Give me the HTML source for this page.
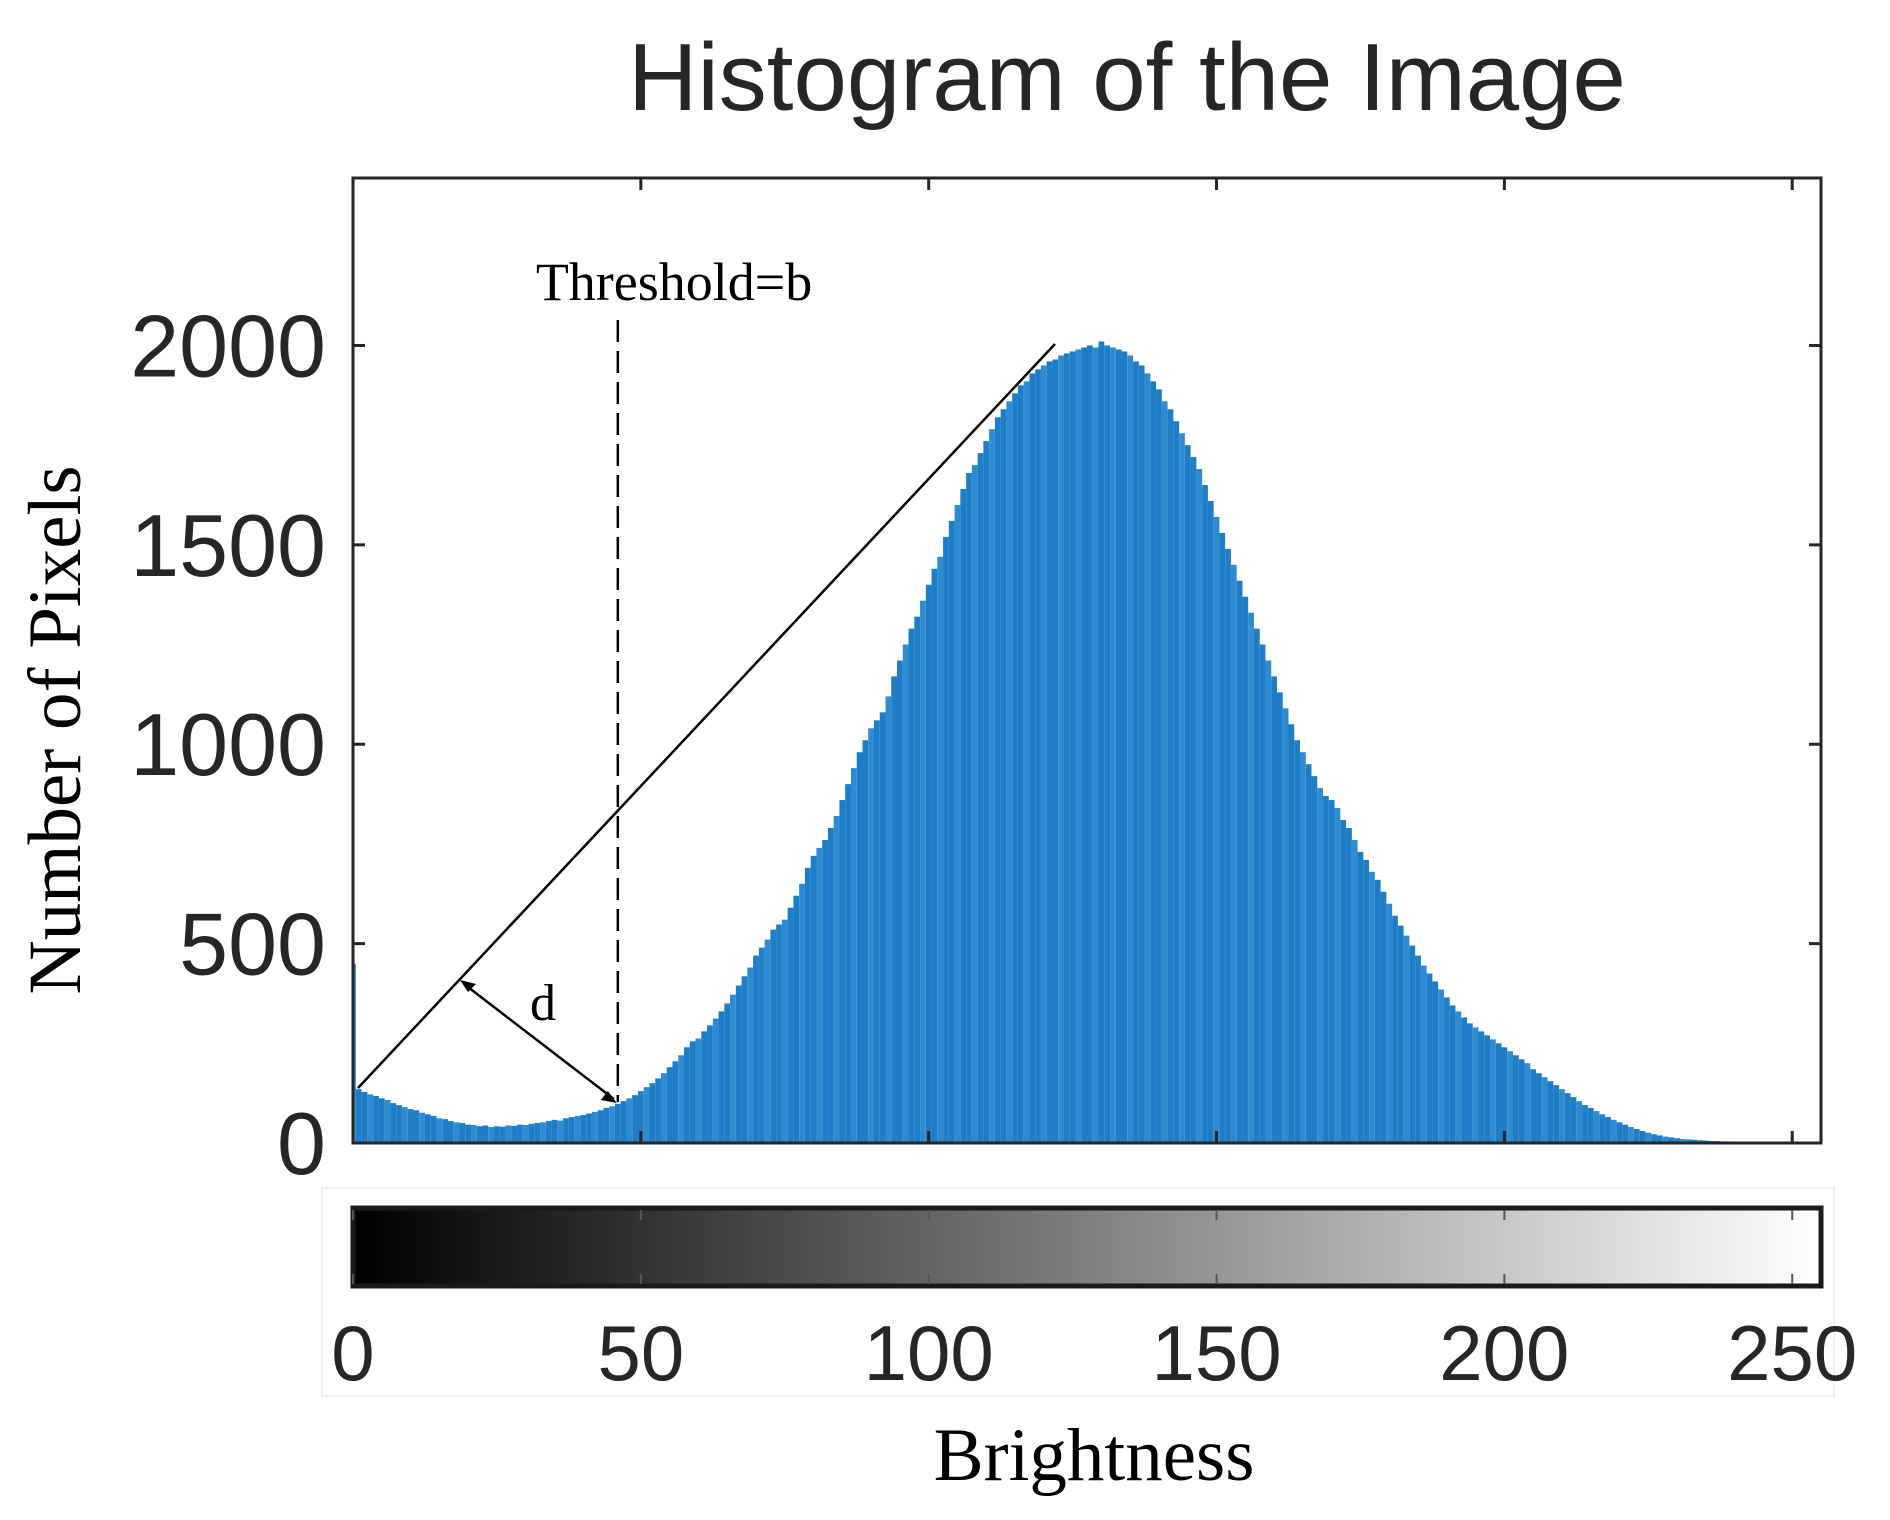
<!DOCTYPE html>
<html><head><meta charset="utf-8">
<style>
html,body{margin:0;padding:0;background:#fff;}
svg{display:block;}
</style></head>
<body>
<svg id="chart" width="1890" height="1520" viewBox="0 0 1890 1520" xmlns="http://www.w3.org/2000/svg">
  <text x="1127" y="110" font-family="Liberation Sans, sans-serif" font-size="96" fill="#262626" text-anchor="middle">Histogram of the Image</text>
  <rect x="322" y="1188" width="1512" height="208" fill="none" stroke="#f0f0f0" stroke-width="2"/>
  <g id="bars"></g>
  <g id="axes"></g>
  <defs>
    <linearGradient id="gray" x1="0" x2="1" y1="0" y2="0">
      <stop offset="0" stop-color="#000"/><stop offset="1" stop-color="#fff"/>
    </linearGradient>
  </defs>
  <rect x="353" y="1208" width="1468" height="78" fill="url(#gray)" stroke="#1a1a1a" stroke-width="5"/>
  <g id="cbticks"></g>
  <text x="1094" y="1480" font-family="Liberation Serif, serif" font-size="75" fill="#000" text-anchor="middle">Brightness</text>
  <text transform="translate(80,730) rotate(-90)" font-family="Liberation Serif, serif" font-size="75" fill="#000" text-anchor="middle">Number of Pixels</text>
  <g id="annot"></g>
</svg>
<script>
const counts = [
450,135,128,122,118,112,108,100,95,90,
85,82,76,72,68,62,60,55,52,50,
46,45,42,44,40,42,41,44,43,46,
45,48,50,52,55,58,56,62,65,68,
70,74,78,82,88,92,98,105,112,120,
130,140,150,162,175,190,205,220,240,255,
262,280,295,312,330,350,372,395,418,440,
470,490,510,535,548,560,590,620,650,690,
720,740,760,790,820,860,900,940,980,1010,
1040,1060,1080,1120,1170,1210,1250,1290,1320,1360,
1400,1440,1470,1520,1560,1600,1640,1680,1700,1730,
1760,1790,1820,1840,1860,1880,1900,1910,1930,1940,
1950,1960,1965,1975,1980,1985,1990,1995,2000,1995,
2010,2000,1995,1990,1985,1975,1960,1950,1930,1910,
1890,1860,1840,1810,1780,1750,1720,1690,1650,1610,
1570,1530,1490,1450,1410,1370,1330,1290,1250,1210,
1170,1130,1090,1050,1010,980,950,920,890,870,
860,840,810,790,760,730,710,680,660,630,
600,570,545,520,495,470,445,425,405,385,
365,345,330,315,300,290,280,270,260,250,
240,230,220,210,200,185,175,165,155,145,
135,125,115,105,95,88,80,72,65,58,
52,46,40,35,30,26,22,19,16,14,
12,10,9,8,7,6,5,5,4,4,
3,3,3,2,2,2,2,1,1,1,
1,1,1,1,1,1];
const yTicks = [0,500,1000,1500,2000];
const yTickLabels = ["0","500","1000","1500","2000"];
const xTicks = [0,50,100,150,200,250];
const xTickLabels = ["0","50","100","150","200","250"];
const thresholdBin = 46;

const L=353, R=1821, T=178, B=1143;
const XMAX=255, YMAX=2420;
const NS="http://www.w3.org/2000/svg";
function xs(v){return L+(v)*(R-L)/XMAX;}
function ys(v){return B-v*(B-T)/YMAX;}
function mk(tag,attrs,parent){const e=document.createElementNS(NS,tag);for(const k in attrs)e.setAttribute(k,attrs[k]);parent.appendChild(e);return e;}

const bars=document.getElementById('bars');
counts.forEach((c,i)=>{
  const x0=xs(i-0.5<0?0:i-0.5), x1=Math.min(xs(i+0.5),R);
  const r=mk('rect',{x:x0,y:ys(c),width:Math.max(x1-x0,0.5),height:B-ys(c),fill:(i%3===0)?'#2f8bd0':'#1d7dc6'},bars);
  
  
});

const ax=document.getElementById('axes');
const box=mk('rect',{x:L,y:T,width:R-L,height:B-T,fill:'none',stroke:'#262626','stroke-width':3},ax);


yTicks.forEach((v,i)=>{
  const y=ys(v);
  mk('line',{x1:L,x2:L+12,y1:y,y2:y,stroke:'#262626','stroke-width':3},ax);
  mk('line',{x1:R-12,x2:R,y1:y,y2:y,stroke:'#262626','stroke-width':3},ax);
  const t=mk('text',{x:326,y:y+31,'font-family':'Liberation Sans, sans-serif','font-size':88,fill:'#262626','text-anchor':'end'},ax);
  t.textContent=yTickLabels[i];
  
  
});
const cb=document.getElementById('cbticks');
xTicks.forEach((v,i)=>{
  const x=xs(v);
  mk('line',{x1:x,x2:x,y1:T,y2:T+12,stroke:'#262626','stroke-width':3},ax);
  mk('line',{x1:x,x2:x,y1:B-12,y2:B,stroke:'#262626','stroke-width':3},ax);
  mk('line',{x1:x,x2:x,y1:1210,y2:1220,stroke:'#555','stroke-width':2},cb);
  mk('line',{x1:x,x2:x,y1:1274,y2:1284,stroke:'#555','stroke-width':2},cb);
  const t=mk('text',{x:x,y:1380,'font-family':'Liberation Sans, sans-serif','font-size':78,fill:'#262626','text-anchor':'middle'},cb);
  t.textContent=xTickLabels[i];
  
  
});

const an=document.getElementById('annot');
const tx=xs(thresholdBin);
const dl=mk('line',{x1:tx,x2:tx,y1:320,y2:ys(counts[thresholdBin])-2,stroke:'#000','stroke-width':2.5,'stroke-dasharray':'22,9'},an);


const tt=mk('text',{x:tx-82,y:300,'font-family':'Liberation Serif, serif','font-size':54,fill:'#000'},an);
tt.textContent='Threshold=b';


const ln=mk('line',{x1:358,y1:1088,x2:1055,y2:344,stroke:'#000','stroke-width':2.5},an);


const da=mk('line',{x1:464,y1:984,x2:tx-4,y2:1099,stroke:'#000','stroke-width':2.5},an);


mk('path',{d:'M460,980 l16,4 l-8,8 z',fill:'#000'},an);
mk('path',{d:`M${tx-1},${1103} l-16,-3 l7,-9 z`,fill:'#000'},an);
const dt=mk('text',{x:530,y:1020,'font-family':'Liberation Serif, serif','font-size':52,fill:'#000'},an);
dt.textContent='d';


</script>
</body></html>
